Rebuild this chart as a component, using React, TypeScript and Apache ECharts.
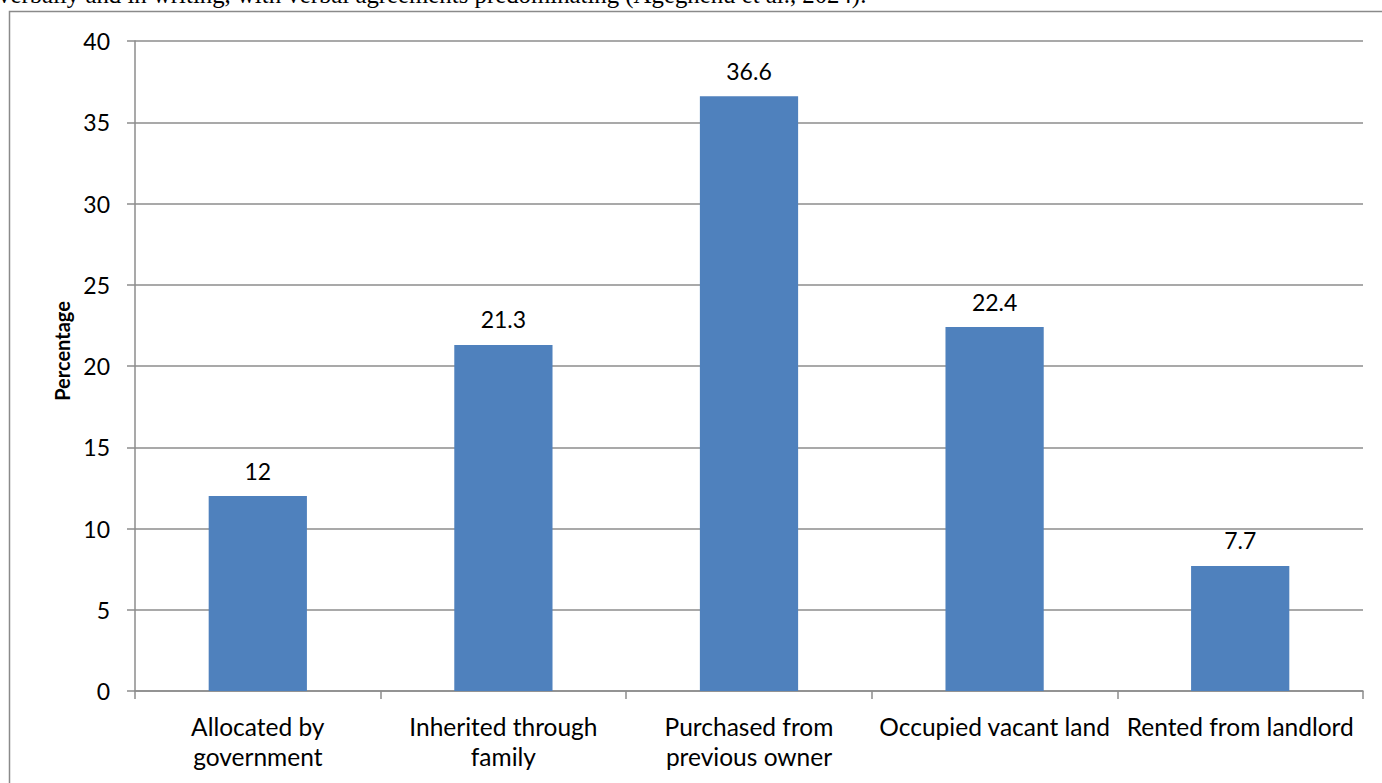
import React, { useEffect, useRef } from "react";
import * as echarts from "echarts";

const categories = [
  "Allocated by\ngovernment",
  "Inherited through\nfamily",
  "Purchased from\nprevious owner",
  "Occupied vacant land",
  "Rented from landlord",
];
const percentages = [12, 21.3, 36.6, 22.4, 7.7];
const yTicks = { min: 0, max: 40, interval: 5 };
const yAxisTitle = "Percentage";
const leadText =
  "verbally and in writing, with verbal agreements predominating (Agegnehu et al., 2024).";

const LABEL_FONT = "Lato, 'Open Sans', sans-serif";
const LINE = "#8c8c8c";

export default function App() {
  const ref = useRef<HTMLDivElement>(null);

  useEffect(() => {
    if (!ref.current) return;
    const chart = echarts.init(ref.current, null, { renderer: "svg" });
    chart.setOption({
      animation: false,
      backgroundColor: "#ffffff",
      grid: { left: 135, right: 19, top: 41, bottom: 92, containLabel: false },
      graphic: [
        {
          type: "text",
          x: -2,
          y: -5.5,
          style: {
            text: leadText,
            font: "24.8px 'Liberation Serif', 'Times New Roman', serif",
            fill: "#000",
            verticalAlign: "middle",
          },
        },
        {
          type: "rect",
          shape: { x: 9.5, y: 11.5, width: 1400, height: 800 },
          style: { fill: "none", stroke: "#8a8a8a", lineWidth: 1.5 },
          silent: true,
          z: -1,
        },
        {
          type: "text",
          x: 62,
          y: 351,
          rotation: Math.PI / 2,
          style: {
            text: yAxisTitle,
            font: "bold 20px Lato, 'Open Sans', sans-serif",
            fill: "#000",
            align: "center",
            verticalAlign: "middle",
          },
        },
      ],
      xAxis: {
        type: "category",
        data: categories,
        axisLine: { lineStyle: { color: LINE, width: 1.5 } },
        axisTick: { show: true, length: 8, lineStyle: { color: LINE, width: 1.5 } },
        axisLabel: {
          color: "#000",
          fontSize: 24.5,
          fontFamily: LABEL_FONT,
          lineHeight: 30,
          margin: 20,
          interval: 0,
        },
      },
      yAxis: {
        type: "value",
        min: yTicks.min,
        max: yTicks.max,
        interval: yTicks.interval,
        axisLine: { show: true, lineStyle: { color: LINE, width: 1.5 } },
        axisTick: { show: true, length: 8, lineStyle: { color: LINE, width: 1.5 } },
        axisLabel: { color: "#000", fontSize: 23, fontFamily: LABEL_FONT, margin: 25 },
        splitLine: { lineStyle: { color: LINE, width: 1.5 } },
      },
      series: [
        {
          type: "bar",
          data: percentages,
          barWidth: "40%",
          itemStyle: { color: "#4f81bd" },
          label: {
            show: true,
            position: "top",
            distance: 14,
            color: "#000",
            fontSize: 23,
            fontFamily: LABEL_FONT,
          },
        },
      ],
    });
    return () => chart.dispose();
  }, []);

  return (
    <div
      ref={ref}
      style={{ position: "absolute", left: 0, top: 0, width: 1382, height: 783 }}
    />
  );
}
